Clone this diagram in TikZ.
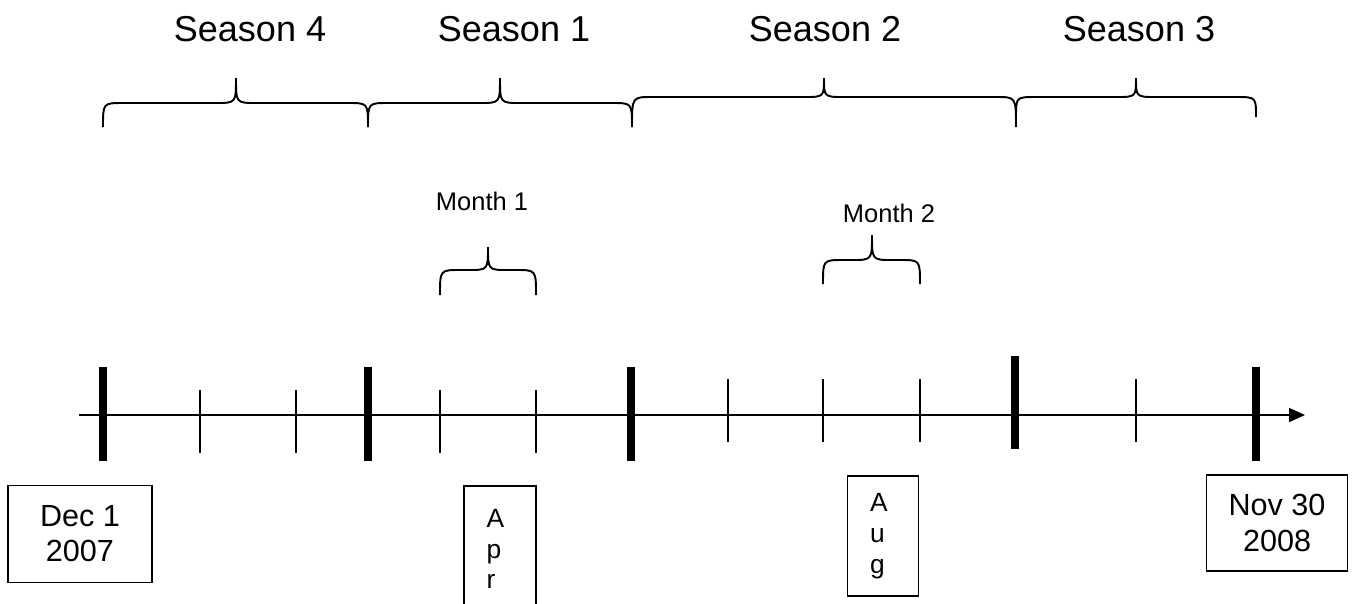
\documentclass[tikz,border=0pt]{standalone}
\usepackage{fontspec}
\setmainfont{Liberation Sans}
\usetikzlibrary{arrows.meta}

% left, tip, right, bottom, middle, top
\newcommand{\curly}[6]{%
  \draw (#1,#4) .. controls (#1,#5) .. ({#1+20},#5) -- ({#2-20},#5)
    .. controls (#2,#5) .. (#2,#6) .. controls (#2,#5) .. ({#2+20},#5)
    -- ({#3-20},#5) .. controls (#3,#5) .. (#3,#4);}

\begin{document}
\begin{tikzpicture}[x=0.02cm,
					y=-0.02cm,
					line width=1.1pt,
					bar/.style={line width=4pt},
					datebox/.style={draw,align=center,inner sep=0pt,
					  font=\fontsize{17.4}{20}\selectfont},
					letterbox/.style={draw,align=left,inner ysep=0pt,inner xsep=0.45cm,
					  font=\fontsize{15}{17.5}\selectfont},
					season/.style={anchor=base,font=\fontsize{20.5}{24}\selectfont},
					month/.style={anchor=base,font=\fontsize{14.5}{17}\selectfont}]

  \useasboundingbox (0,0) rectangle (1353,603);

  \node[season] (s4) at (250,41) {Season 4};
  \node[season] (s1) at (514,41) {Season 1};
  \node[season] (s2) at (825,41) {Season 2};
  \node[season] (s3) at (1139,41) {Season 3};

  \curly{103}{236}{368}{127}{103}{78}
  \curly{368}{500}{632}{127}{103}{78}
  \curly{632}{824}{1016}{127}{97}{78}
  \curly{1016}{1136}{1256}{117}{97}{78}

  \node[month] (m1) at (482,210) {Month 1};
  \node[month] (m2) at (889,222) {Month 2};

  \curly{440}{488}{536}{295}{270}{247}
  \curly{823}{872}{920}{284}{260}{235}

  \coordinate (start) at (79,415);
  \coordinate (end) at (1305,415);
  \draw[-{Triangle[length=0.32cm,width=0.28cm]}] (start) -- (end);

  \foreach \x in {103,368,631,1256}
    \draw[bar] (\x,367) -- (\x,461);
  \draw[bar] (1015,356) -- (1015,449);
  \foreach \x in {200,296,440,536}
    \draw (\x,390) -- (\x,453);
  \foreach \x in {728,823,920,1136}
    \draw (\x,379) -- (\x,442);

  \node[datebox,minimum width=2.88cm,minimum height=1.94cm] (dec) at (80,534) {Dec 1\\2007};
  \node[letterbox,text width=0.54cm,minimum height=2.52cm] (apr) at (500,549) {A\\p\\r};
  \node[letterbox,text width=0.52cm,minimum height=2.4cm] (aug) at (883,536) {A\\u\\g};
  \node[datebox,minimum width=2.82cm,minimum height=1.92cm] (nov) at (1277,523) {Nov 30\\2008};
\end{tikzpicture}
\end{document}
